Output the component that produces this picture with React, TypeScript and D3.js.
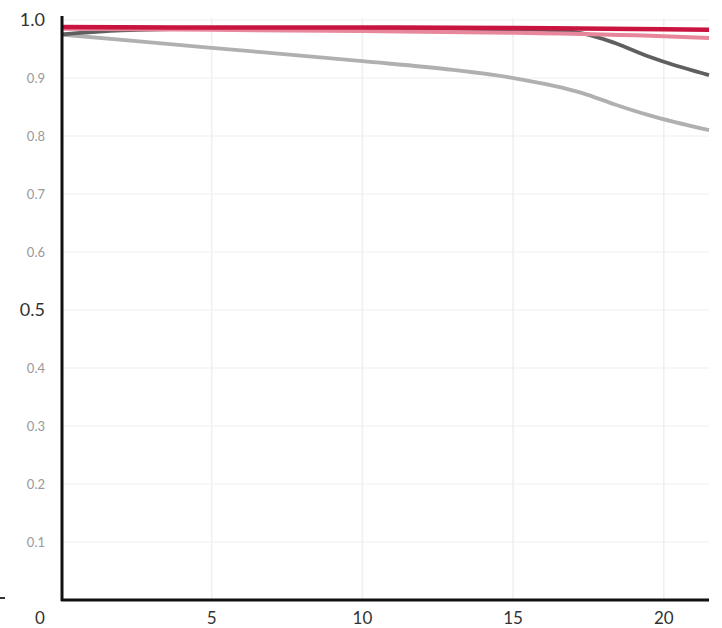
import React from "react";
import * as d3 from "d3";

const xTicks = [5, 10, 15, 20];
const yTicks = [0.1, 0.2, 0.3, 0.4, 0.5, 0.6, 0.7, 0.8, 0.9, 1.0];
const majorY = [0.5, 1.0];

const redX = [0, 5, 10, 15, 20, 21.5];
const redY = [0.988, 0.987, 0.987, 0.986, 0.984, 0.983];
const pinkX = [0, 5, 10, 15, 20, 21.5];
const pinkY = [0.985, 0.983, 0.981, 0.978, 0.972, 0.969];
const darkX = [0, 2, 5, 10, 15, 16, 17.3, 18.4, 19.5, 20, 21.5];
const darkY = [0.975, 0.982, 0.985, 0.986, 0.984, 0.983, 0.977, 0.96, 0.937, 0.928, 0.905];
const lightX = [0, 5, 10, 13, 15, 17.3, 18.4, 19.5, 21.5];
const lightY = [0.975, 0.952, 0.929, 0.914, 0.9, 0.874, 0.854, 0.836, 0.81];

export default function App() {
  const W = 722, H = 628;
  const x = d3.scaleLinear().domain([0, 21.5]).range([61, 709]);
  const y = d3.scaleLinear().domain([0, 1]).range([600, 20]);
  const line = d3
    .line<[number, number]>()
    .x((d) => x(d[0]))
    .y((d) => y(d[1]))
    .curve(d3.curveMonotoneX);
  const zip = (a: number[], b: number[]) => a.map((v, i) => [v, b[i]] as [number, number]);
  const series = [
    { xs: lightX, ys: lightY, color: "#b0b0b0", w: 3.8 },
    { xs: darkX, ys: darkY, color: "#5f5f5f", w: 3.8 },
    { xs: pinkX, ys: pinkY, color: "#e8869c", w: 4 },
    { xs: redX, ys: redY, color: "#c8143f", w: 4.5 },
  ];
  return (
    <svg width={W} height={H} style={{ position: "absolute", left: 0, top: 0, background: "#fff" }}>
      <rect width={W} height={H} fill="#fff" />
      {yTicks.map((t) => (
        <line key={"hy" + t} x1={62} x2={709} y1={y(t)} y2={y(t)} stroke="#f4f4f4" strokeWidth={1.5} />
      ))}
      {xTicks.map((t) => (
        <line key={"gx" + t} x1={x(t)} x2={x(t)} y1={18} y2={600} stroke="#efefef" strokeWidth={1.5} />
      ))}
      {series.map((s, i) => (
        <path key={i} d={line(zip(s.xs, s.ys)) || ""} fill="none" stroke={s.color} strokeWidth={s.w} strokeLinecap="butt" />
      ))}
      <line x1={62} x2={62} y1={16} y2={601} stroke="#111" strokeWidth={3} />
      <line x1={61} x2={709} y1={600} y2={600} stroke="#111" strokeWidth={3} />
      {yTicks.map((t) => {
        const major = majorY.includes(t);
        return (
          <text
            key={"ty" + t}
            x={45}
            y={y(t)}
            dy="0.35em"
            textAnchor="end"
            fontFamily="Lato, sans-serif"
            fontSize={major ? 18 : 13}
            fill={major ? "#333" : "#999"}
          >
            {t.toFixed(1)}
          </text>
        );
      })}
      {xTicks.map((t) => (
        <text key={"tx" + t} x={x(t)} y={624} textAnchor="middle" fontFamily="Lato, sans-serif" fontSize={17} fill="#333">
          {t}
        </text>
      ))}
      <text x={40} y={624} textAnchor="middle" fontFamily="Lato, sans-serif" fontSize={17} fill="#333">0</text>
      <line x1={0} x2={5} y1={598} y2={598} stroke="#333" strokeWidth={2} />
    </svg>
  );
}
